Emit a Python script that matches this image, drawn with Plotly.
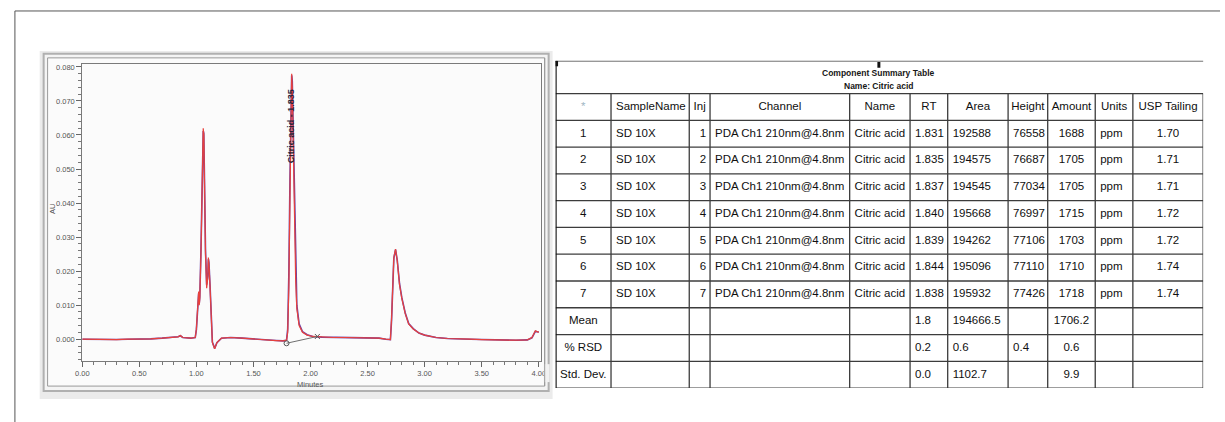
import plotly.graph_objects as go

# ---------------- chromatogram data (minutes, AU) ----------------
citric_rt = 1.835
time_min = [0.00, 0.10, 0.20, 0.30, 0.40, 0.50, 0.60, 0.70, 0.80, 0.84, 0.86, 0.88,
            0.95, 0.99, 1.00, 1.01, 1.02, 1.025, 1.03, 1.04, 1.05, 1.06, 1.065, 1.07,
            1.08, 1.09, 1.10, 1.105, 1.11, 1.12, 1.13, 1.14, 1.16, 1.18, 1.22, 1.30,
            1.40, 1.50, 1.60, 1.70, 1.76, 1.79, 1.80, 1.81, 1.82, 1.83, citric_rt, 1.84,
            1.85, 1.86, 1.87, 1.88, 1.90, 1.93, 1.97, 2.02, 2.10, 2.20, 2.30, 2.40,
            2.50, 2.60, 2.66, 2.70, 2.71, 2.72, 2.73, 2.745, 2.76, 2.78, 2.80, 2.83,
            2.86, 2.90, 2.95, 3.00, 3.10, 3.20, 3.30, 3.40, 3.50, 3.60, 3.70, 3.80,
            3.90, 3.94, 3.97, 4.00]

au_red = [0.0000, -0.0001, -0.0001, -0.0001, 0.0000, 0.0000, 0.0001, 0.0003, 0.0005, 0.0007, 0.0011, 0.0005,
          0.0003, 0.0005, 0.0030, 0.0100, 0.0140, 0.0100, 0.0120, 0.0250, 0.0480, 0.0620, 0.0600, 0.0450,
          0.0250, 0.0150, 0.0180, 0.0240, 0.0220, 0.0150, 0.0050, -0.0010, -0.0028, -0.0010, 0.0003, 0.0005,
          0.0003, 0.0000, -0.0002, -0.0004, -0.0005, -0.0003, 0.0020, 0.0150, 0.0420, 0.0700, 0.0780, 0.0740,
          0.0560, 0.0330, 0.0170, 0.0090, 0.0040, 0.0020, 0.0012, 0.0008, 0.0006, 0.0005, 0.0005, 0.0004,
          0.0004, 0.0003, 0.0000, -0.0001, 0.0060, 0.0170, 0.0240, 0.0265, 0.0230, 0.0160, 0.0120, 0.0075,
          0.0045, 0.0030, 0.0018, 0.0012, 0.0005, 0.0002, 0.0000, 0.0000, -0.0001, -0.0002, -0.0002, -0.0003,
          -0.0002, 0.0005, 0.0025, 0.0020]

au_purple = [0.0000, -0.0001, -0.0001, -0.0001, 0.0000, 0.0000, 0.0001, 0.0003, 0.0005, 0.0007, 0.0010, 0.0005,
             0.0003, 0.0005, 0.0028, 0.0095, 0.0135, 0.0105, 0.0125, 0.0260, 0.0470, 0.0612, 0.0605, 0.0460,
             0.0260, 0.0160, 0.0185, 0.0235, 0.0225, 0.0155, 0.0055, -0.0008, -0.0027, -0.0010, 0.0003, 0.0005,
             0.0003, 0.0000, -0.0002, -0.0004, -0.0005, -0.0003, 0.0030, 0.0190, 0.0470, 0.0730, 0.0775, 0.0760,
             0.0600, 0.0370, 0.0190, 0.0100, 0.0045, 0.0022, 0.0013, 0.0008, 0.0006, 0.0005, 0.0005, 0.0004,
             0.0004, 0.0003, 0.0000, -0.0001, 0.0055, 0.0165, 0.0238, 0.0263, 0.0232, 0.0163, 0.0122, 0.0077,
             0.0046, 0.0031, 0.0018, 0.0012, 0.0005, 0.0002, 0.0000, 0.0000, -0.0001, -0.0002, -0.0002, -0.0003,
             -0.0002, 0.0004, 0.0023, 0.0021]

# integration baseline under the citric acid peak
baseline_t = [1.79, 2.06]
baseline_au = [-0.0012, 0.0008]

# ---------------- component summary table ----------------
col_headers = ["*", "SampleName", "Inj", "Channel", "Name", "RT", "Area",
               "Height", "Amount", "Units", "USP Tailing"]
row_labels = ["1", "2", "3", "4", "5", "6", "7", "Mean", "% RSD", "Std. Dev."]
sample_names = ["SD 10X"] * 7 + ["", "", ""]
injections = ["1", "2", "3", "4", "5", "6", "7", "", "", ""]
channels = ["PDA Ch1 210nm@4.8nm"] * 7 + ["", "", ""]
names = ["Citric acid"] * 7 + ["", "", ""]
rt_vals = ["1.831", "1.835", "1.837", "1.840", "1.839", "1.844", "1.838", "1.8", "0.2", "0.0"]
area_vals = ["192588", "194575", "194545", "195668", "194262", "195096", "195932",
             "194666.5", "0.6", "1102.7"]
height_vals = ["76558", "76687", "77034", "76997", "77106", "77110", "77426", "", "0.4", ""]
amount_vals = ["1688", "1705", "1705", "1715", "1703", "1710", "1718", "1706.2", "0.6", "9.9"]
unit_vals = ["ppm"] * 7 + ["", "", ""]
tailing_vals = ["1.70", "1.71", "1.71", "1.72", "1.72", "1.74", "1.74", "", "", ""]
table_title = "Component Summary Table"
table_subtitle = "Name: Citric acid"
peak_label = f"Citric acid - {citric_rt:.3f}"

W, H = 1225, 422


def px(x):
    return x / W


def py(y):
    return 1 - y / H


TABLE_FONT = "Liberation Sans, Arial, sans-serif"
fig = go.Figure()

# ---------- chromatogram ----------
fig.add_trace(go.Scatter(x=time_min, y=au_purple, mode="lines",
                         line=dict(color="#6a3fa6", width=1.6), hoverinfo="skip"))
fig.add_trace(go.Scatter(x=time_min, y=au_red, mode="lines",
                         line=dict(color="#e8413c", width=1.2), hoverinfo="skip"))
fig.add_trace(go.Scatter(x=baseline_t, y=baseline_au, mode="lines+markers",
                         line=dict(color="#6f6f6f", width=1),
                         marker=dict(symbol=["circle-open", "x-thin-open"], size=5,
                                     color="#555", line=dict(width=1, color="#555")),
                         hoverinfo="skip"))
# peak flag above the frame
fig.add_trace(go.Scatter(x=[citric_rt], y=[0.0818], mode="markers",
                         marker=dict(symbol="square", size=4, color="#222"),
                         cliponaxis=False, hoverinfo="skip"))

# ---------- summary table drawn on its own axes ----------
col_widths = [56, 79, 21, 141, 61, 38, 61, 40, 48, 38, 71]
edges = [0]
for w in col_widths:
    edges.append(edges[-1] + w)
total_w = edges[-1]
n_rows = len(row_labels)
title_h = 33 / 27  # title block height in row units

body_align = ["center", "left", "right", "left", "left", "left", "left",
              "left", "center", "left", "center"]
head_align = ["center", "left", "center", "center", "center", "center",
              "center", "center", "center", "center", "center"]
columns = [row_labels, sample_names, injections, channels, names, rt_vals,
           area_vals, height_vals, amount_vals, unit_vals, tailing_vals]
pos_map = {"left": "middle right", "right": "middle left", "center": "middle center"}


def text_x(c, how):
    if how == "left":
        return edges[c] + 5
    if how == "right":
        return edges[c + 1] - 4
    return (edges[c] + edges[c + 1]) / 2


for c, values in enumerate(columns):
    fig.add_trace(go.Scatter(
        x=[text_x(c, body_align[c])] * n_rows, y=[r + 1.5 for r in range(n_rows)],
        text=values, mode="text", textposition=pos_map[body_align[c]],
        textfont=dict(family=TABLE_FONT, size=11.5, color="#101010"),
        xaxis="x2", yaxis="y2", cliponaxis=False, hoverinfo="skip"))
    fig.add_trace(go.Scatter(
        x=[text_x(c, head_align[c])], y=[0.5], text=[col_headers[c]],
        mode="text", textposition=pos_map[head_align[c]],
        textfont=dict(family=TABLE_FONT, size=11.5,
                      color="#9fb7c4" if c == 0 else "#101010"),
        xaxis="x2", yaxis="y2", cliponaxis=False, hoverinfo="skip"))

grid = dict(color="#3c3c3c", width=1.3)
shapes = []
for r in range(n_rows + 2):
    shapes.append(dict(type="line", xref="x2", yref="y2", x0=0, x1=total_w,
                       y0=r, y1=r, line=grid))
for e in edges[1:]:
    shapes.append(dict(type="line", xref="x2", yref="y2", x0=e, x1=e,
                       y0=0, y1=n_rows + 1, line=grid))
shapes += [
    dict(type="line", xref="x2", yref="y2", x0=-1, x1=total_w + 5,
         y0=-title_h, y1=-title_h, line=dict(color="#333", width=1.4)),
    dict(type="line", xref="x2", yref="y2", x0=0, x1=0,
         y0=-title_h, y1=n_rows + 1.2, line=dict(color="#111", width=2.2)),
    dict(type="rect", xref="x2", yref="y2", x0=-1.5, x1=2.5,
         y0=-title_h, y1=-title_h + 0.2, fillcolor="#111", line=dict(width=0)),
    dict(type="rect", xref="x2", yref="y2", x0=325, x1=328,
         y0=-title_h + 0.04, y1=-title_h + 0.26, fillcolor="#111", line=dict(width=0)),
]

# ---------- page frame and chromatogram window ----------
shapes += [
    dict(type="line", xref="paper", yref="paper", x0=px(8), x1=1, y0=py(10), y1=py(10),
         line=dict(color="#555", width=1)),
    dict(type="line", xref="paper", yref="paper", x0=px(8), x1=px(8), y0=py(10), y1=0,
         line=dict(color="#555", width=1)),
    dict(type="rect", xref="paper", yref="paper", x0=px(33), x1=px(551), y0=py(50), y1=py(399),
         fillcolor="#ebebeb", line=dict(width=0), layer="below"),
    dict(type="rect", xref="paper", yref="paper", x0=px(37), x1=px(547), y0=py(53), y1=py(391),
         fillcolor="#f4f4f4", line=dict(color="#b0b0b0", width=2), layer="below"),
    dict(type="rect", xref="paper", yref="paper", x0=px(41), x1=px(543), y0=py(57), y1=py(386),
         fillcolor="#fbfbfb", line=dict(color="#9a9a9a", width=1), layer="below"),
    # right edge of the window covers the overflow of the last time label
    dict(type="rect", xref="paper", yref="paper", x0=px(542), x1=px(548), y0=py(364), y1=py(382),
         fillcolor="#f2f2f2", line=dict(width=0), layer="above"),
    dict(type="line", xref="paper", yref="paper", x0=px(543), x1=px(543), y0=py(57), y1=py(386),
         line=dict(color="#9a9a9a", width=1), layer="above"),
]

title_font = dict(family=TABLE_FONT, size=8.5, color="#161616")
axis_font = dict(family="Liberation Sans, Arial", size=7.5, color="#555")
annotations = [
    dict(x=326, y=(70 - 91) / 27, xref="x2", yref="y2", text=f"<b>{table_title}</b>",
         showarrow=False, font=title_font, xanchor="center", yanchor="middle"),
    dict(x=326, y=(83 - 91) / 27, xref="x2", yref="y2", text=f"<b>{table_subtitle}</b>",
         showarrow=False, font=title_font, xanchor="center", yanchor="middle"),
    dict(x=citric_rt, y=0.0625, xref="x", yref="y", text=f"<b>{peak_label}</b>", textangle=-90,
         showarrow=False, xanchor="center", yanchor="middle",
         font=dict(family=TABLE_FONT, size=9, color="#2a2238")),
    dict(x=px(307), y=py(384), xref="paper", yref="paper", text="Minutes",
         showarrow=False, font=axis_font, xanchor="center", yanchor="middle"),
    dict(x=px(46), y=py(209), xref="paper", yref="paper", text="AU", textangle=-90,
         showarrow=False, font=axis_font, xanchor="center", yanchor="middle"),
]

tick_font = dict(family="Liberation Sans, Arial", size=7.5, color="#555")
fig.update_layout(
    width=W, height=H, margin=dict(l=0, r=0, t=0, b=0),
    paper_bgcolor="white", plot_bgcolor="rgba(0,0,0,0)", showlegend=False,
    shapes=shapes, annotations=annotations,
    xaxis=dict(domain=[px(76), px(539)], range=[0, 4.017], dtick=0.5, tick0=0,
               tickformat=".2f", ticks="outside", ticklen=5, tickcolor="#666",
               minor=dict(dtick=0.1, ticks="outside", ticklen=3, tickcolor="#777"),
               showgrid=False, zeroline=False, showline=True, mirror=True,
               linecolor="#7a7a7a", linewidth=1, tickfont=tick_font),
    yaxis=dict(domain=[py(361), py(63)], range=[-0.00645, 0.0809], dtick=0.01, tick0=0,
               tickformat=".3f", ticks="outside", ticklen=5, tickcolor="#666",
               minor=dict(dtick=0.002, ticks="outside", ticklen=3, tickcolor="#777"),
               showgrid=False, zeroline=False, showline=True, mirror=True,
               linecolor="#7a7a7a", linewidth=1, tickfont=tick_font),
    xaxis2=dict(domain=[px(554), px(1208)], range=[0, total_w], anchor="y2", visible=False),
    yaxis2=dict(domain=[py(388), py(60)], range=[n_rows + 1, -title_h], anchor="x2",
                visible=False),
)

fig.write_html("out.html")
